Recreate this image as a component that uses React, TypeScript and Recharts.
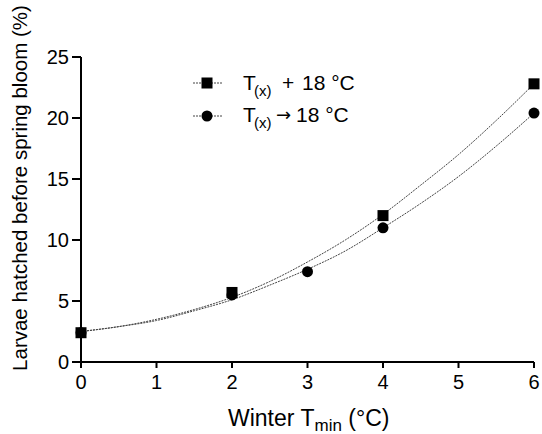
import { ComposedChart, Line, Scatter, XAxis, YAxis } from 'recharts'

// measured points
const squareX = [0, 2, 4, 6]
const squareY = [2.4, 5.7, 12.0, 22.8]
const circleX = [0, 2, 3, 4, 6]
const circleY = [2.4, 5.5, 7.4, 11.0, 20.4]

// fitted curves
const fitX = [0, 0.5, 1, 1.5, 2, 2.5, 3, 3.5, 4, 4.5, 5, 5.5, 6]
const fitUpper = [2.5, 2.9, 3.5, 4.3, 5.3, 6.6, 8.2, 10.0, 12.1, 14.5, 17.0, 19.8, 22.8]
const fitLower = [2.5, 2.9, 3.4, 4.2, 5.1, 6.3, 7.6, 9.1, 11.0, 13.0, 15.2, 17.7, 20.4]

const xTicks = [0, 1, 2, 3, 4, 5, 6]
const yTicks = [0, 5, 10, 15, 20, 25]

const font = '"Liberation Sans", Arial, sans-serif'

const squares = squareX.map((x, i) => ({ x, y: squareY[i] }))
const circles = circleX.map((x, i) => ({ x, y: circleY[i] }))
const upper = fitX.map((x, i) => ({ x, y: fitUpper[i] }))
const lower = fitX.map((x, i) => ({ x, y: fitLower[i] }))

const SquareDot = (props: any) => {
    const { cx, cy } = props
    return <rect x={cx - 5.5} y={cy - 5.5} width={11} height={11} fill="#000" />
}

const CircleDot = (props: any) => {
    const { cx, cy } = props
    return <circle cx={cx} cy={cy} r={5.5} fill="#000" />
}

function LegendBox() {
    return (
        <svg width={542} height={434} style={{ position: 'absolute', left: 0, top: 0, pointerEvents: 'none' }}>
            <g fontFamily={font} fill="#000">
                <line x1={193} x2={222} y1={83} y2={83} stroke="#444" strokeWidth={1} strokeDasharray="2 1" />
                <rect x={201.5} y={77.5} width={11} height={11} fill="#000" />
                <text x={243} y={90} fontSize={21}>T</text>
                <text x={254} y={96} fontSize={15}>(x)</text>
                <text x={282} y={90} fontSize={21}>+</text>
                <text x={302} y={90} fontSize={21}>18 °C</text>

                <line x1={193} x2={222} y1={116} y2={116} stroke="#444" strokeWidth={1} strokeDasharray="2 1" />
                <circle cx={207} cy={116} r={5.5} fill="#000" />
                <text x={243} y={122} fontSize={21}>T</text>
                <text x={254} y={128} fontSize={15}>(x)</text>
                <text x={276} y={121} fontSize={18} fontFamily='"DejaVu Sans", sans-serif'>→</text>
                <text x={296} y={122} fontSize={21}>18 °C</text>
            </g>
        </svg>
    )
}

export default function App() {
    return (
        <div style={{ position: 'absolute', left: 0, top: 0, width: 542, height: 434, background: '#fff' }}>
            <ComposedChart width={542} height={434} margin={{ top: 57, right: 8, left: 0, bottom: 0 }}>
                <XAxis
                    type="number"
                    dataKey="x"
                    domain={[0, 6]}
                    ticks={xTicks}
                    height={72}
                    stroke="#000"
                    strokeWidth={2}
                    tickSize={6}
                    tick={{ fill: '#000', fontSize: 20, fontFamily: font }}
                    tickMargin={7}
                    label={() => (
                        <text x={228} y={426} fontSize={23} fontFamily={font} fill="#000">
                            Winter T<tspan fontSize={17} dy={5}>min</tspan>
                            <tspan dy={-5}> (°C)</tspan>
                        </text>
                    )}
                />
                <YAxis
                    type="number"
                    domain={[0, 25]}
                    ticks={yTicks}
                    width={81}
                    stroke="#000"
                    strokeWidth={2}
                    tickSize={9}
                    tick={{ fill: '#000', fontSize: 20, fontFamily: font }}
                    tickMargin={3}
                    label={() => (
                        <text
                            x={188}
                            y={27}
                            transform="rotate(-90 188 188)"
                            textAnchor="middle"
                            fontSize={20.5}
                            fontFamily={font}
                            fill="#000"
                        >
                            Larvae hatched before spring bloom (%)
                        </text>
                    )}
                />
                <Line data={upper} dataKey="y" type="monotone" stroke="#444" strokeWidth={1} strokeDasharray="2 1" dot={false} isAnimationActive={false} legendType="none" />
                <Line data={lower} dataKey="y" type="monotone" stroke="#444" strokeWidth={1} strokeDasharray="2 1" dot={false} isAnimationActive={false} legendType="none" />
                <Scatter data={squares} dataKey="y" shape={SquareDot} isAnimationActive={false} />
                <Scatter data={circles} dataKey="y" shape={CircleDot} isAnimationActive={false} />
            </ComposedChart>
            <LegendBox />
        </div>
    )
}
